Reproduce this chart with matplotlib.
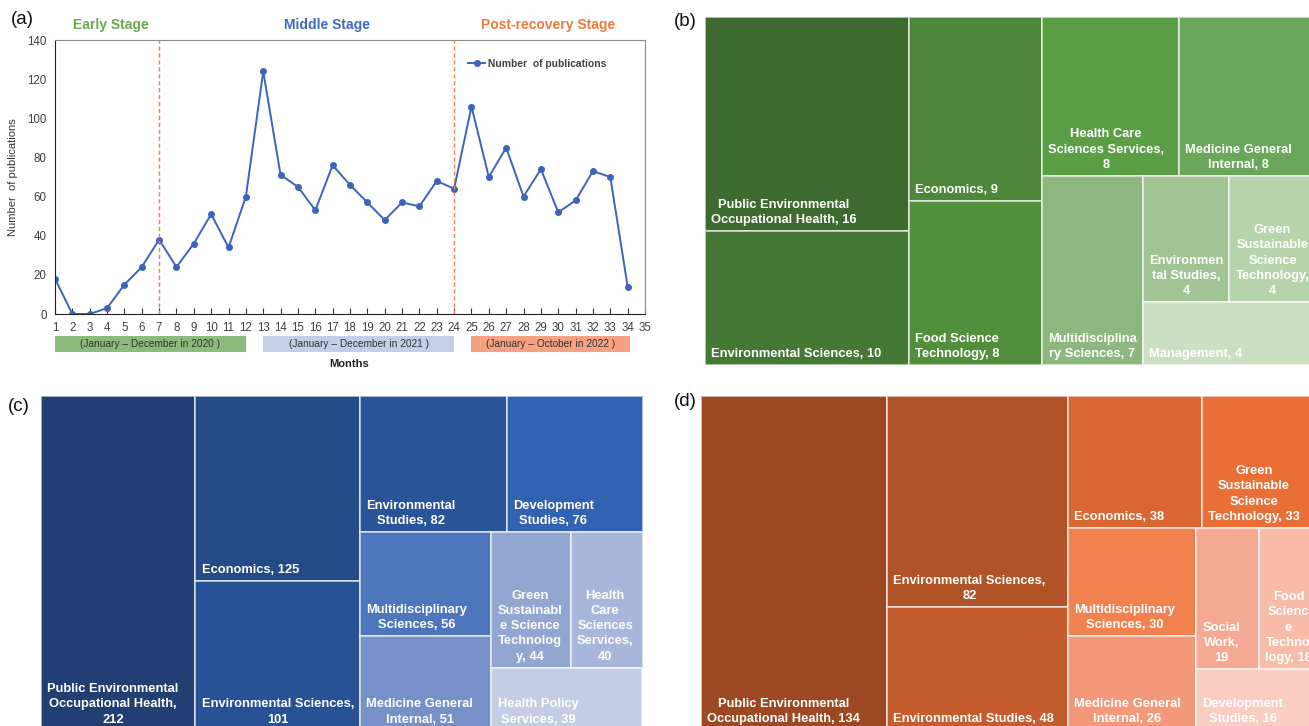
import matplotlib
matplotlib.use("Agg")
import matplotlib.pyplot as plt
from matplotlib.patches import Rectangle
from matplotlib.transforms import blended_transform_factory

plt.rcParams["font.family"] = ["Liberation Sans", "DejaVu Sans"]

# (a) monthly publication counts
MONTHS = list(range(1, 35))
PUBLICATIONS = [18, 0, 0, 3, 15, 24, 38, 24, 36, 51, 34, 60, 124, 71, 65, 53, 76,
                66, 57, 48, 57, 55, 68, 64, 106, 70, 85, 60, 74, 52, 58, 73, 70, 14]
STAGE_BREAKS = [7, 24]
STAGES = ["Early Stage", "Middle Stage", "Post-recovery Stage"]
STAGE_X = [4.2, 16.7, 29.4]
STAGE_COLORS = ["#6aaa4b", "#3e6bc2", "#ee7b3e"]
PERIODS = ["(January – December in 2020 )", "(January – December in 2021 )",
           "(January – October in 2022 )"]
PERIOD_SPANS = [(1, 12), (13, 24), (25, 34.15)]
PERIOD_COLORS = ["#8cbb7b", "#c6cde6", "#f6a282"]

# (b) early stage subject categories
B_VALUES = [16, 10, 9, 8, 8, 8, 7, 4, 4, 4]
B_LABELS = ["Public Environmental\nOccupational Health, {v}",
            "Environmental Sciences, {v}",
            "Economics, {v}",
            "Food Science\nTechnology, {v}",
            "Health Care\nSciences Services,\n{v}",
            "Medicine General\nInternal, {v}",
            "Multidisciplina\nry Sciences, {v}",
            "Environmen\ntal Studies,\n{v}",
            "Green\nSustainable\nScience\nTechnology,\n{v}",
            "Management, {v}"]
B_COLORS = ["#3d6b2f", "#457834", "#4c873a", "#528f3d", "#5b9e46",
            "#6ba75a", "#8db77f", "#a2c394", "#b6d3ab", "#cbdfc2"]

# (c) middle stage subject categories
C_VALUES = [212, 125, 101, 82, 76, 56, 51, 44, 40, 39]
C_LABELS = ["Public Environmental\nOccupational Health,\n{v}",
            "Economics, {v}",
            "Environmental Sciences,\n{v}",
            "Environmental\nStudies, {v}",
            "Development\nStudies, {v}",
            "Multidisciplinary\nSciences, {v}",
            "Medicine General\nInternal, {v}",
            "Green\nSustainabl\ne Science\nTechnolog\ny, {v}",
            "Health\nCare\nSciences\nServices,\n{v}",
            "Health Policy\nServices, {v}"]
C_COLORS = ["#213f73", "#244b87", "#295296", "#2a5498", "#3262b2",
            "#4d76bc", "#7790c7", "#93a5d1", "#a9b6dc", "#c5cde5"]

# (d) post-recovery stage subject categories
D_VALUES = [134, 82, 48, 38, 33, 30, 26, 19, 18, 16]
D_LABELS = ["Public Environmental\nOccupational Health, {v}",
            "Environmental Sciences,\n{v}",
            "Environmental Studies, {v}",
            "Economics, {v}",
            "Green\nSustainable\nScience\nTechnology, {v}",
            "Multidisciplinary\nSciences, {v}",
            "Medicine General\nInternal, {v}",
            "Social\nWork,\n{v}",
            "Food\nScienc\ne\nTechno\nlogy, {v}",
            "Development\nStudies, {v}"]
D_COLORS = ["#9c4823", "#b15329", "#c55c2e", "#d96733", "#e96f36",
            "#f28150", "#f4987a", "#f5a892", "#f8bba8", "#f9cdc1"]

FIG_W, FIG_H = 1309, 726


def px_axes(fig, left, top, width, height):
    return fig.add_axes([left / FIG_W, 1 - (top + height) / FIG_H,
                         width / FIG_W, height / FIG_H])


def worst_ratio(areas, side, column):
    thick = sum(areas) / side
    worst = 0
    for a in areas:
        length = a / thick
        cw, ch = (thick, length) if column else (length, thick)
        # wide cells are penalised so labels get taller boxes
        r = 1.5 * cw / ch if cw > ch else ch / cw
        worst = max(worst, r)
    return worst


def squarify(values, width, height):
    scale = width * height / sum(values)
    areas = [v * scale for v in values]
    x, y, w, h = 0.0, 0.0, float(width), float(height)
    rects = []
    i = 0
    while i < len(areas):
        column = w >= h
        side = h if column else w
        row = [areas[i]]
        best = worst_ratio(row, side, column)
        j = i + 1
        while j < len(areas):
            score = worst_ratio(row + [areas[j]], side, column)
            if score > best:
                break
            row.append(areas[j])
            best = score
            j += 1
        thick = sum(row) / side
        pos = y if column else x
        for a in row:
            length = a / thick
            if column:
                rects.append((x, pos, thick, length))
            else:
                rects.append((pos, y, length, thick))
            pos += length
        if column:
            x += thick
            w -= thick
        else:
            y += thick
            h -= thick
        i = j
    return rects


def draw_treemap(ax, values, labels, colors):
    x0, y0, x1, y1 = ax.get_position().extents
    width = (x1 - x0) * FIG_W
    height = (y1 - y0) * FIG_H
    ax.set_xlim(0, width)
    ax.set_ylim(height, 0)
    ax.axis("off")
    for (x, y, w, h), v, lab, col in zip(squarify(values, width, height),
                                         values, labels, colors):
        ax.add_patch(Rectangle((x, y), w, h, facecolor=col,
                               edgecolor=(1, 1, 1, 0.6), linewidth=1.4))
        ax.annotate(lab.format(v=v), xy=(x, y + h), xytext=(4.5, 3.5),
                    textcoords="offset points", ha="left", va="bottom",
                    multialignment="center", color="white", fontsize=9.3,
                    fontweight="bold", linespacing=1.36, annotation_clip=False)


fig = plt.figure(figsize=(FIG_W / 100, FIG_H / 100), dpi=100)

# (a) line chart
ax = px_axes(fig, 55, 40, 590, 274)
ax.plot(MONTHS, PUBLICATIONS, color="#3a64bd", lw=1.4, marker="o", ms=4,
        label="Number  of publications")
for m in STAGE_BREAKS:
    ax.axvline(m, color="#f07f4c", lw=1.0, ls=(0, (3, 2)))
ax.set_xlim(1, 35)
ax.set_ylim(0, 140)
ax.set_xticks(range(1, 36))
ax.set_yticks(range(0, 141, 20))
ax.tick_params(axis="x", direction="in", length=4, color="#333333",
               labelsize=8.3, labelcolor="#404040", pad=6)
ax.tick_params(axis="y", length=0, labelsize=8.3, labelcolor="#404040", pad=6)
for side in ("left", "bottom"):
    ax.spines[side].set_color("#222222")
for side in ("top", "right"):
    ax.spines[side].set_color("#8c8c8c")
ax.set_ylabel("Number  of publications", fontsize=8, color="#333333")
ax.yaxis.set_label_coords(-0.063, 0.5)
ax.legend(loc="upper left", bbox_to_anchor=(0.685, 0.965), frameon=False,
          handlelength=1.6, handletextpad=0.3,
          prop={"size": 7.4, "weight": "bold"}, labelcolor="#404040")

trans = blended_transform_factory(ax.transData, ax.transAxes)
for name, sx, col in zip(STAGES, STAGE_X, STAGE_COLORS):
    ax.text(sx, 1.055, name, transform=trans, ha="center", va="center",
            color=col, fontsize=10, fontweight="bold")
for name, (a, b), col in zip(PERIODS, PERIOD_SPANS, PERIOD_COLORS):
    ax.add_patch(Rectangle((a, -0.139), b - a, 0.059, transform=trans,
                           facecolor=col, edgecolor="none", clip_on=False))
    ax.text((a + b) / 2, -0.109, name, transform=trans, ha="center",
            va="center", fontsize=7.3, color="#333333")
ax.text(0.498, -0.183, "Months", transform=ax.transAxes, ha="center",
        va="center", fontsize=8, fontweight="bold", color="#222222")

# (b), (c), (d) treemaps
draw_treemap(px_axes(fig, 705, 16.5, 611, 348.5), B_VALUES, B_LABELS, B_COLORS)
draw_treemap(px_axes(fig, 41, 395.5, 601.5, 335), C_VALUES, C_LABELS, C_COLORS)
draw_treemap(px_axes(fig, 701, 396, 617, 334), D_VALUES, D_LABELS, D_COLORS)

for tag, x, y in [("(a)", 22, 19), ("(b)", 685, 21), ("(c)", 19, 407), ("(d)", 685, 401)]:
    fig.text(x / FIG_W, 1 - y / FIG_H, tag, fontsize=13.5, ha="center",
             va="center", color="#111111")

fig.savefig("out.png", dpi=100)
